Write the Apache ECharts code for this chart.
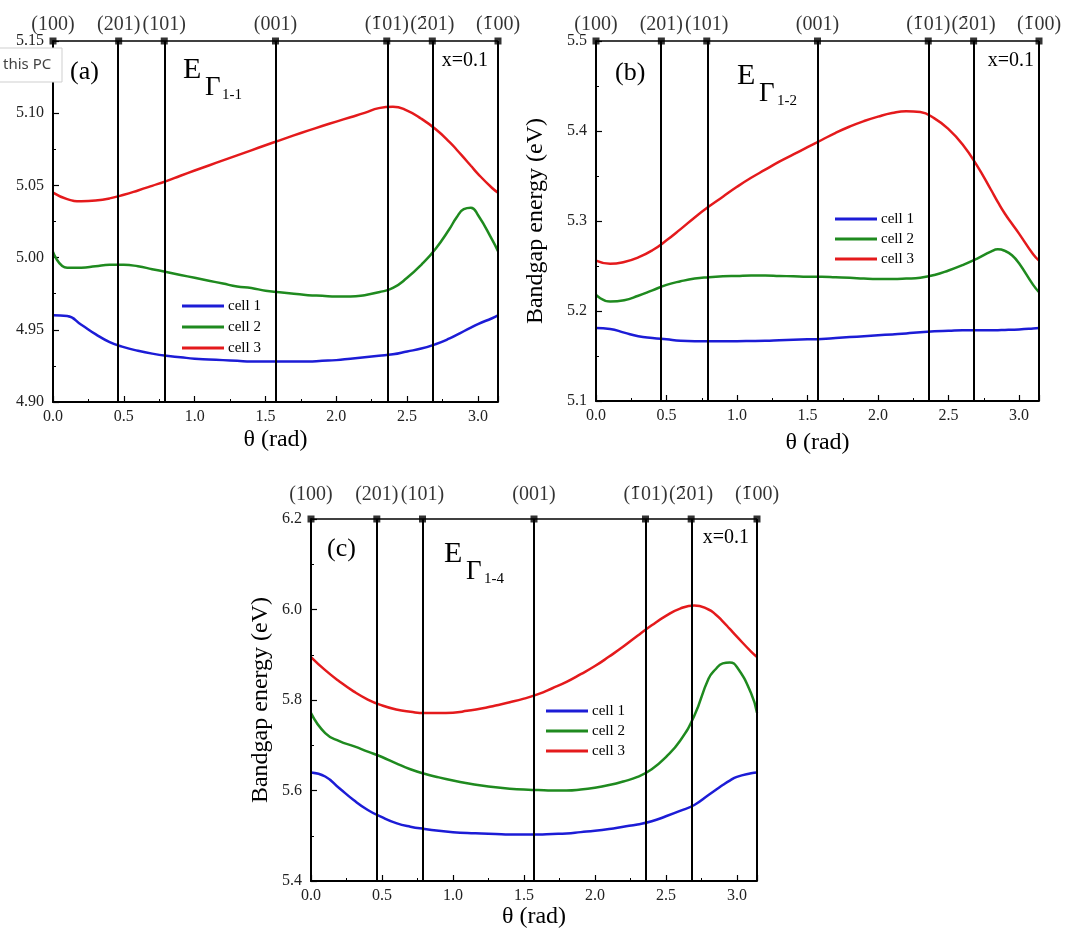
<!DOCTYPE html>
<html><head><meta charset="utf-8">
<script src="https://cdn.jsdelivr.net/npm/echarts@6/dist/echarts.min.js"></script>
<style>html,body{margin:0;padding:0;background:#fff}#c{width:1076px;height:939px}</style>
</head><body><div id="c"></div>
<script>
// ---- data ----
const THETA = [0,0.1,0.2,0.3,0.4,0.5,0.6,0.7,0.8,0.9,1.0,1.1,1.2,1.3,1.4,1.5,1.6,1.7,1.8,1.9,2.0,2.1,2.2,2.3,2.4,2.5,2.6,2.7,2.8,2.85,2.9,2.95,3.0,3.1,3.1416];
const DIR_ANGLES = [0, 0.4636, 0.7854, 1.5708, 2.3562, 2.6779, 3.1416];
const DIR_LABELS = ['(100)','(201)','(101)','(001)','(1\u030401)','(2\u030401)','(1\u030400)'];
const SERIES_NAMES = ['cell 1','cell 2','cell 3'];

const A_CELL1 = [4.960,4.9595,4.9535,4.947,4.9415,4.938,4.9355,4.9335,4.932,4.931,4.930,4.9295,4.929,4.9285,4.928,4.928,4.928,4.928,4.928,4.9285,4.929,4.930,4.931,4.932,4.933,4.935,4.937,4.940,4.944,4.9465,4.949,4.9515,4.954,4.958,4.960];
const A_CELL2 = [5.004,4.993,4.993,4.994,4.995,4.995,4.994,4.992,4.990,4.988,4.986,4.984,4.982,4.980,4.979,4.977,4.976,4.975,4.974,4.9735,4.973,4.973,4.974,4.976,4.979,4.986,4.995,5.006,5.020,5.028,5.0335,5.0345,5.0295,5.0125,5.0045];
const A_CELL3 = [5.045,5.0405,5.039,5.0395,5.041,5.0435,5.0465,5.0497,5.053,5.0567,5.0603,5.0638,5.0673,5.0708,5.0743,5.0778,5.0812,5.0846,5.0879,5.0911,5.0942,5.0972,5.1002,5.1035,5.1045,5.1018,5.0962,5.089,5.080,5.0747,5.0692,5.0636,5.058,5.0482,5.045];

const B_CELL1 = [5.181,5.180,5.176,5.172,5.170,5.1685,5.167,5.1665,5.1665,5.1665,5.1665,5.1667,5.167,5.1675,5.168,5.1685,5.169,5.170,5.171,5.172,5.173,5.174,5.175,5.1765,5.1775,5.178,5.1785,5.1785,5.1785,5.1787,5.179,5.1792,5.1795,5.1805,5.181];
const B_CELL2 = [5.218,5.2105,5.212,5.217,5.223,5.229,5.233,5.236,5.2375,5.2385,5.239,5.2395,5.2395,5.239,5.2385,5.238,5.238,5.2375,5.237,5.236,5.2355,5.2355,5.236,5.237,5.240,5.245,5.251,5.258,5.266,5.2685,5.2668,5.262,5.253,5.229,5.221];
const B_CELL3 = [5.256,5.2525,5.2545,5.2595,5.2675,5.2785,5.291,5.304,5.316,5.327,5.338,5.348,5.357,5.366,5.374,5.382,5.390,5.398,5.405,5.411,5.416,5.420,5.422,5.421,5.414,5.402,5.385,5.362,5.335,5.321,5.308,5.297,5.286,5.263,5.256];

const C_CELL1 = [5.640,5.631,5.605,5.579,5.557,5.541,5.528,5.520,5.515,5.511,5.508,5.506,5.505,5.504,5.503,5.503,5.503,5.504,5.505,5.508,5.511,5.515,5.520,5.525,5.532,5.543,5.555,5.568,5.590,5.601,5.612,5.622,5.630,5.638,5.640];
const C_CELL2 = [5.771,5.727,5.709,5.698,5.686,5.674,5.660,5.647,5.637,5.629,5.622,5.616,5.611,5.607,5.604,5.602,5.601,5.600,5.600,5.602,5.606,5.612,5.620,5.630,5.647,5.674,5.710,5.765,5.847,5.868,5.881,5.883,5.873,5.815,5.772];
const C_CELL3 = [5.895,5.866,5.841,5.819,5.801,5.788,5.779,5.774,5.771,5.771,5.772,5.776,5.781,5.788,5.795,5.803,5.813,5.826,5.840,5.857,5.875,5.896,5.918,5.942,5.965,5.986,6.002,6.009,6.000,5.989,5.974,5.957,5.940,5.907,5.895];

const Y_MIN = [4.90, 5.1, 5.4];
const Y_MAX = [5.15, 5.5, 6.2];
const Y_STEP = [0.05, 0.1, 0.2];
const Y_DEC = [2, 1, 1];
const PANEL_TAGS = ['(a)', '(b)', '(c)'];
const PANEL_SUBS = ['1-1', '1-2', '1-4'];
const COMPOSITION = 'x=0.1';

// ---- layout ----
const COLORS = ['#1c1cd6', '#1f8a1f', '#e41a1c'];
const SERIF = '"Liberation Serif","Times New Roman",serif';
const L = [
  {left:53, top:41, w:445, h:361, yName:'', yGap:0, xGap:26, lblDist:3,
   legend:{left:182, top:296, gap:1}, tag:[70,72], E:[183,70], G:[205,88], S:[222,95], xr:[488,61]},
  {left:596, top:41, w:443, h:360, yName:'Bandgap energy (eV)', yGap:48, xGap:30, lblDist:3,
   legend:{left:835, top:209, gap:0}, tag:[615,73], E:[737,76], G:[759,94], S:[777,101], xr:[1034,61]},
  {left:311, top:519, w:446, h:362, yName:'Bandgap energy (eV)', yGap:38, xGap:22, lblDist:11,
   legend:{left:546, top:701, gap:0}, tag:[327,549], E:[444,554], G:[466,572], S:[484,579], xr:[749,538]}
];
const PANEL_DATA = [[A_CELL1,A_CELL2,A_CELL3],[B_CELL1,B_CELL2,B_CELL3],[C_CELL1,C_CELL2,C_CELL3]];

function richLabel(s){
  return '{n|' + s.replace(/(\d\u0304)/, '}{o|$1}{n|') + '}';
}

const grids=[], xAxes=[], yAxes=[], series=[], legends=[], graphics=[];
L.forEach((p,i)=>{
  grids.push({left:p.left, top:p.top, width:p.w, height:p.h, containLabel:false});
  xAxes.push({
    type:'value', gridIndex:i, min:0, max:3.1416, interval:0.5,
    name:'\u03b8 (rad)', nameLocation:'middle', nameGap:p.xGap,
    nameTextStyle:{fontFamily:SERIF, fontSize:24, color:'#000'},
    axisLine:{show:true, lineStyle:{color:'#000', width:2}},
    axisTick:{show:true, inside:true, length:6, lineStyle:{color:'#000', width:1.2}},
    minorTick:{show:true, splitNumber:2, length:3, lineStyle:{color:'#000', width:1}},
    axisLabel:{fontFamily:SERIF, fontSize:16, color:'#222', margin:7, showMaxLabel:false,
      formatter:v=>v.toFixed(1)},
    splitLine:{show:false}
  });
  yAxes.push({
    type:'value', gridIndex:i, min:Y_MIN[i], max:Y_MAX[i], interval:Y_STEP[i],
    name:p.yName, nameLocation:'middle', nameGap:p.yGap,
    nameTextStyle:{fontFamily:SERIF, fontSize:24, color:'#000'},
    axisLine:{show:true, lineStyle:{color:'#000', width:2}},
    axisTick:{show:true, inside:true, length:6, lineStyle:{color:'#000', width:1.2}},
    minorTick:{show:true, splitNumber:2, length:3, lineStyle:{color:'#000', width:1}},
    axisLabel:{fontFamily:SERIF, fontSize:16, color:'#222', margin:9,
      formatter:v=>v.toFixed(Y_DEC[i])},
    splitLine:{show:false}
  });
  // direction markers + vertical lines
  series.push({
    type:'scatter', xAxisIndex:i, yAxisIndex:i, z:2, clip:false, silent:true,
    symbol:'rect', symbolSize:7, itemStyle:{color:'#000'},
    data: DIR_ANGLES.map((a,k)=>[a, Y_MAX[i], DIR_LABELS[k]]),
    label:{show:true, position:'top', distance:p.lblDist, color:'#000',
      formatter:d=>richLabel(d.data[2]),
      rich:{
        n:{fontFamily:SERIF, fontSize:20, color:'#000'},
        o:{fontFamily:'"DejaVu Serif",serif', fontSize:17, color:'#000'}
      }},
    markLine:{silent:true, symbol:['none','none'], label:{show:false},
      lineStyle:{color:'#000', width:2, type:'solid'},
      data: DIR_ANGLES.map(a=>({xAxis:a})).concat([{yAxis:Y_MAX[i], lineStyle:{width:1.5, color:'#000', type:'solid'}}])}
  });
  PANEL_DATA[i].forEach((vals,k)=>{
    series.push({
      type:'line', name:SERIES_NAMES[k], xAxisIndex:i, yAxisIndex:i, z:3,
      data: THETA.map((t,j)=>[t, vals[j]]), smooth:0.5, showSymbol:false, silent:true,
      lineStyle:{color:COLORS[k], width:2.5}, itemStyle:{color:COLORS[k]}
    });
  });
  legends.push({
    orient:'vertical', left:p.legend.left, top:p.legend.top, itemGap:p.legend.gap,
    icon:'rect', itemWidth:42, itemHeight:3, selectedMode:false, padding:0,
    data:SERIES_NAMES,
    textStyle:{fontFamily:SERIF, fontSize:15, lineHeight:20, color:'#000', padding:[0,0,0,-1]}
  });
  graphics.push(
    {type:'text', x:p.tag[0], y:p.tag[1], z:10, style:{text:PANEL_TAGS[i], font:'26px '+SERIF, fill:'#000', textVerticalAlign:'middle'}},
    {type:'text', x:p.E[0], y:p.E[1], z:10, style:{text:'E', font:'30px '+SERIF, fill:'#000', textVerticalAlign:'middle'}},
    {type:'text', x:p.G[0], y:p.G[1], z:10, style:{text:'\u0393', font:'27px '+SERIF, fill:'#000', textVerticalAlign:'middle'}},
    {type:'text', x:p.S[0], y:p.S[1], z:10, style:{text:PANEL_SUBS[i], font:'15px '+SERIF, fill:'#000', textVerticalAlign:'middle'}},
    {type:'text', x:p.xr[0], y:p.xr[1], z:10, style:{text:COMPOSITION, font:'20px '+SERIF, fill:'#000', textAlign:'right', textVerticalAlign:'middle'}}
  );
});
// screenshot tooltip artifact ("this PC")
graphics.push(
  {type:'rect', z:20, shape:{x:-1, y:48, width:63, height:34}, style:{fill:'#fff', stroke:'#cfcfcf', lineWidth:1}},
  {type:'text', z:21, x:3, y:65, style:{text:'this PC', font:'15px "Noto Sans",sans-serif', fill:'#444', textVerticalAlign:'middle'}}
);

const chart = echarts.init(document.getElementById('c'), null, {renderer:'canvas'});
chart.setOption({
  animation:false, backgroundColor:'#fff',
  grid:grids, xAxis:xAxes, yAxis:yAxes, series:series, legend:legends, graphic:graphics
});
</script></body></html>
